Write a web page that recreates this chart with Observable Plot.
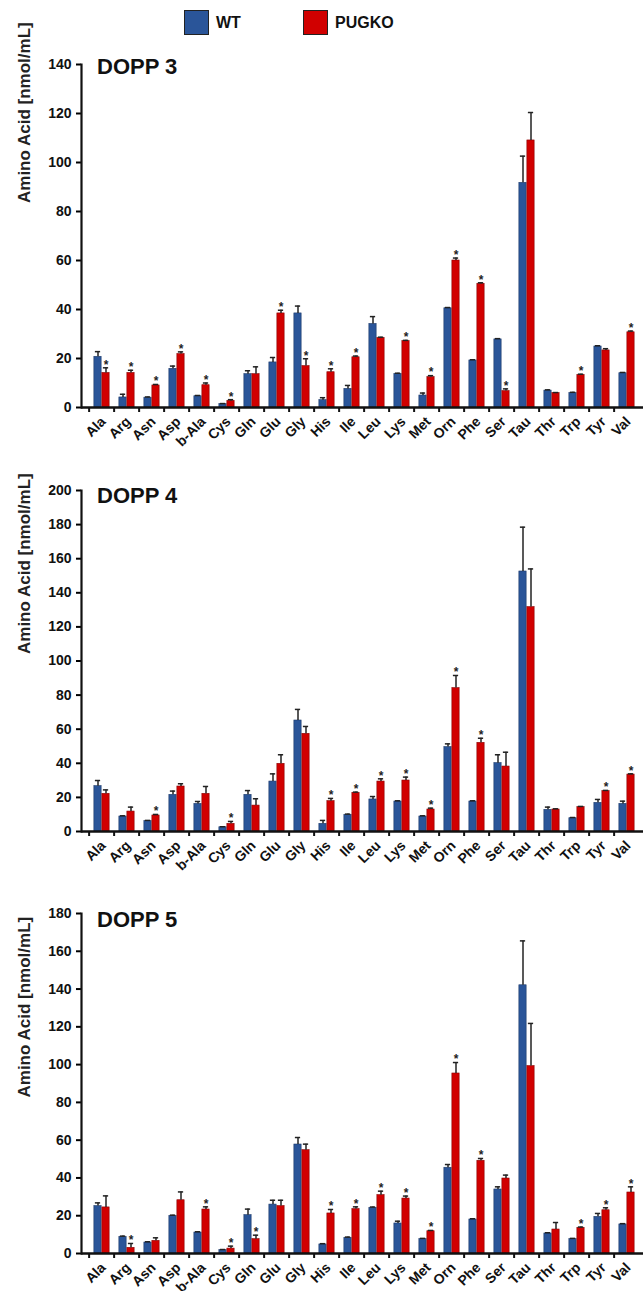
<!DOCTYPE html>
<html><head><meta charset="utf-8">
<script src="https://cdn.jsdelivr.net/npm/d3@7"></script>
<script src="https://cdn.jsdelivr.net/npm/@observablehq/plot@0.6"></script>
<style>
html,body{margin:0;padding:0;background:#fff;overflow:hidden}
#wrap{position:relative;width:643px;height:1291px;overflow:hidden;font-family:Arial,"Liberation Sans",sans-serif}
.panel{position:absolute;left:0}
.panel svg{max-width:none !important;overflow:visible}
.sw{position:absolute;width:23px;height:23px;border:1.5px solid #222}
.lt{position:absolute;font-weight:bold;font-size:16px;line-height:16px;color:#111}
</style></head>
<body><div id="wrap">
<div class="sw" style="left:184px;top:10px;background:#2a5599"></div>
<div class="lt" style="left:216px;top:15px">WT</div>
<div class="sw" style="left:303px;top:10px;background:#d10000"></div>
<div class="lt" style="left:335px;top:15px">PUGKO</div>
</div>
<script>
const aminoAcids = ["Ala","Arg","Asn","Asp","b-Ala","Cys","Gln","Glu","Gly","His","Ile","Leu","Lys","Met","Orn","Phe","Ser","Tau","Thr","Trp","Tyr","Val"];
const groups = ["WT", "PUGKO"];

const dopp3WT    = [20.7,4.1,4.0,15.8,4.6,1.4,13.6,18.4,38.4,3.0,7.6,34.1,13.7,4.9,40.5,19.2,27.8,91.7,6.9,5.9,24.9,14.0];
const dopp3WTErr = [2.1,1.3,0.3,1.1,0.3,0.2,1.4,2.0,3.0,1.0,1.4,3.0,0.3,1.0,0.3,0.3,0.3,10.9,0.3,0.3,0.3,0.3];
const dopp3KO    = [14.1,14.1,9.0,21.8,9.1,2.7,13.6,38.4,16.9,14.4,20.5,28.4,27.1,12.4,60.0,50.5,6.7,109.0,5.9,13.3,23.3,30.7];
const dopp3KOErr = [2.1,1.1,0.4,0.9,0.9,0.5,3.0,1.3,3.0,1.4,0.5,0.3,0.3,0.6,1.0,0.4,0.9,11.4,0.2,0.3,0.7,0.5];
const dopp3Stars = ["Ala","Arg","Asn","Asp","b-Ala","Cys","Glu","Gly","His","Ile","Lys","Met","Orn","Phe","Ser","Trp","Val"];

const dopp4WT    = [26.6,8.8,6.1,21.5,16.2,2.5,21.5,29.3,65.1,4.5,9.8,18.8,17.6,8.8,49.5,17.6,40.1,152.5,12.7,7.8,16.8,16.2];
const dopp4WTErr = [3.3,0.4,0.4,2.2,1.4,0.3,2.5,4.5,6.5,2.0,0.4,1.7,0.4,0.4,1.9,0.4,4.9,26.0,1.6,0.4,2.0,1.6];
const dopp4KO    = [22.1,11.7,9.4,26.4,22.1,4.5,15.2,39.7,57.3,17.8,22.7,29.3,29.9,12.9,84.1,52.0,38.1,131.6,12.9,14.3,23.7,33.4];
const dopp4KOErr = [2.3,2.6,0.6,1.6,4.3,1.4,4.0,5.3,4.3,1.6,0.4,1.6,2.0,0.8,7.4,2.7,8.4,22.4,0.4,0.4,0.4,0.4];
const dopp4Stars = ["Asn","Cys","His","Ile","Leu","Lys","Met","Orn","Phe","Tyr","Val"];

const dopp5WT    = [25.1,8.8,5.8,19.9,11.1,1.8,20.3,25.9,57.7,4.8,8.3,24.2,15.9,7.6,45.4,18.0,33.9,142.0,10.6,7.6,19.4,15.4];
const dopp5WTErr = [1.7,0.4,0.4,0.4,0.4,0.3,3.2,2.3,3.7,0.4,0.4,0.4,1.2,0.4,1.7,0.4,1.4,23.5,0.4,0.4,1.8,0.4];
const dopp5KO    = [24.4,3.0,6.7,28.2,23.3,2.6,7.6,25.1,54.7,21.2,23.5,30.9,29.1,11.8,95.3,49.1,39.7,99.2,12.7,13.6,22.9,32.3];
const dopp5KOErr = [6.1,2.3,1.6,4.4,1.4,1.3,2.1,3.1,3.2,2.1,1.2,2.1,1.3,0.4,5.8,1.2,1.8,22.6,3.7,0.4,1.3,3.0];
const dopp5Stars = ["Arg","b-Ala","Cys","Gln","His","Ile","Leu","Lys","Met","Orn","Phe","Trp","Tyr","Val"];

const yTicks3 = [0,20,40,60,80,100,120,140];
const yTicks4 = [0,20,40,60,80,100,120,140,160,180,200];
const yTicks5 = [0,20,40,60,80,100,120,140,160,180];

const yLabel = "Amino Acid [nmol/mL]";

const colors = {WT: "#2a5599", PUGKO: "#d10000"};
const FONT = "Arial, 'Liberation Sans', sans-serif";

function panel(cfg) {
  const xRange = [81, 647.5];
  const bw = (xRange[1] - xRange[0]) / aminoAcids.length;
  const barW = 8;
  const rows = [];
  aminoAcids.forEach((aa, i) => {
    rows.push({aa, g: "WT", v: cfg.wt[i], e: cfg.wtErr[i]});
    rows.push({aa, g: "PUGKO", v: cfg.ko[i], e: cfg.koErr[i], star: cfg.stars.includes(aa)});
  });
  const wt = rows.filter(d => d.g === "WT");
  const ko = rows.filter(d => d.g === "PUGKO");
  const off = barW / 2;
  const capHalf = 3;
  const ymax = cfg.ticks[cfg.ticks.length - 1];
  const plotH = cfg.height - cfg.mt - cfg.mb;
  const tickLen = 5 * ymax / plotH;
  const cats = aminoAcids.map(aa => ({aa}));
  const p = Plot.plot({
    width: 643,
    height: cfg.height,
    marginLeft: 81,
    marginRight: 0,
    marginTop: cfg.mt,
    marginBottom: cfg.mb,
    style: {fontFamily: FONT, background: "transparent", overflow: "visible"},
    x: {type: "band", domain: aminoAcids, range: xRange, padding: 0, axis: null},
    y: {domain: [0, ymax], axis: null},
    marks: [
      Plot.barY(wt, {x: "aa", y: "v", fill: colors.WT, stroke: "#1c3a6b", strokeWidth: 0.6,
        insetLeft: bw / 2 - barW, insetRight: bw / 2}),
      Plot.barY(ko, {x: "aa", y: "v", fill: colors.PUGKO, stroke: "#8a0000", strokeWidth: 0.6,
        insetLeft: bw / 2, insetRight: bw / 2 - barW}),
      Plot.ruleX(wt, {x: "aa", y1: "v", y2: d => d.v + d.e, dx: -off, stroke: "#222", strokeWidth: 1.5}),
      Plot.ruleX(ko, {x: "aa", y1: "v", y2: d => d.v + d.e, dx: off, stroke: "#222", strokeWidth: 1.5}),
      Plot.tickY(wt, {x: "aa", y: d => d.v + d.e, stroke: "#222", strokeWidth: 1.5,
        insetLeft: bw / 2 - off - capHalf, insetRight: bw / 2 + off - capHalf}),
      Plot.tickY(ko, {x: "aa", y: d => d.v + d.e, stroke: "#222", strokeWidth: 1.5,
        insetLeft: bw / 2 + off - capHalf, insetRight: bw / 2 - off - capHalf}),
      Plot.text(ko.filter(d => d.star), {x: "aa", y: d => d.v + d.e, text: () => "*", dx: off, dy: -3,
        fontSize: 12, fontWeight: "bold", fill: "#222", lineAnchor: "middle"}),
      Plot.axisY({ticks: cfg.ticks, tickSize: 5, tickPadding: 5, fontSize: 14, fontWeight: "bold",
        label: null, strokeWidth: 2, fill: "#111"}),
      Plot.frame({anchor: "left", strokeWidth: 2.2, stroke: "#111"}),
      Plot.ruleX(cats, {x: "aa", y1: 0, y2: -tickLen, dx: -bw / 2, stroke: "#111", strokeWidth: 2}),
      // category labels: placed by the x scale, slanted after rendering
      Plot.text(cats, {x: "aa", y: 0, text: "aa", dx: 1, dy: 12, lineAnchor: "middle",
        fontSize: 14, fontWeight: "bold", fill: "#111"}),
      Plot.ruleY([0], {strokeWidth: 2.5, stroke: "#111"}),
      Plot.text([cfg.title], {frameAnchor: "top-left", textAnchor: "start", lineAnchor: "middle",
        dx: 15.5, dy: cfg.titleDy, fontSize: 22, fontWeight: "bold", fill: "#111"}),
      Plot.text([yLabel], {frameAnchor: "left", rotate: -90, dx: -57, dy: cfg.labelDy,
        fontSize: 17, fontWeight: "bold", fill: "#222"})
    ]
  });
  const div = document.createElement("div");
  div.className = "panel";
  div.style.top = cfg.top + "px";
  div.appendChild(p);
  document.getElementById("wrap").appendChild(div);

  // slant the category labels by -45 degrees around the point where the scale placed them
  const svg = p.tagName.toLowerCase() === "svg" ? p : p.querySelector("svg");
  const sr = svg.getBoundingClientRect();
  const names = new Set(aminoAcids);
  const ns = "http://www.w3.org/2000/svg";
  Array.from(svg.querySelectorAll("text")).forEach(el => {
    if (!names.has(el.textContent)) return;
    const r = el.getBoundingClientRect();
    const cx = (r.left + r.right) / 2 - sr.left;
    const cy = (r.top + r.bottom) / 2 - sr.top;
    const t = document.createElementNS(ns, "text");
    t.textContent = el.textContent;
    t.setAttribute("text-anchor", "end");
    t.setAttribute("dy", "0.35em");
    t.setAttribute("font-size", "14");
    t.setAttribute("font-weight", "bold");
    t.setAttribute("font-family", FONT);
    t.setAttribute("fill", "#111");
    const g = document.createElementNS(ns, "g");
    g.setAttribute("transform", `translate(${cx},${cy}) rotate(-45)`);
    g.appendChild(t);
    svg.appendChild(g);
    el.remove();
  });
}

panel({title: "DOPP 3", wt: dopp3WT, wtErr: dopp3WTErr, ko: dopp3KO, koErr: dopp3KOErr, stars: dopp3Stars,
  ticks: yTicks3, top: 40, height: 410, mt: 24, mb: 43, titleDy: 2.5, labelDy: -33});
panel({title: "DOPP 4", wt: dopp4WT, wtErr: dopp4WTErr, ko: dopp4KO, koErr: dopp4KOErr, stars: dopp4Stars,
  ticks: yTicks4, top: 450, height: 420, mt: 40, mb: 39, titleDy: 5.5, labelDy: -7});
panel({title: "DOPP 5", wt: dopp5WT, wtErr: dopp5WTErr, ko: dopp5KO, koErr: dopp5KOErr, stars: dopp5Stars,
  ticks: yTicks5, top: 870, height: 421, mt: 43, mb: 38, titleDy: 6, labelDy: 14});
</script>
</body></html>
